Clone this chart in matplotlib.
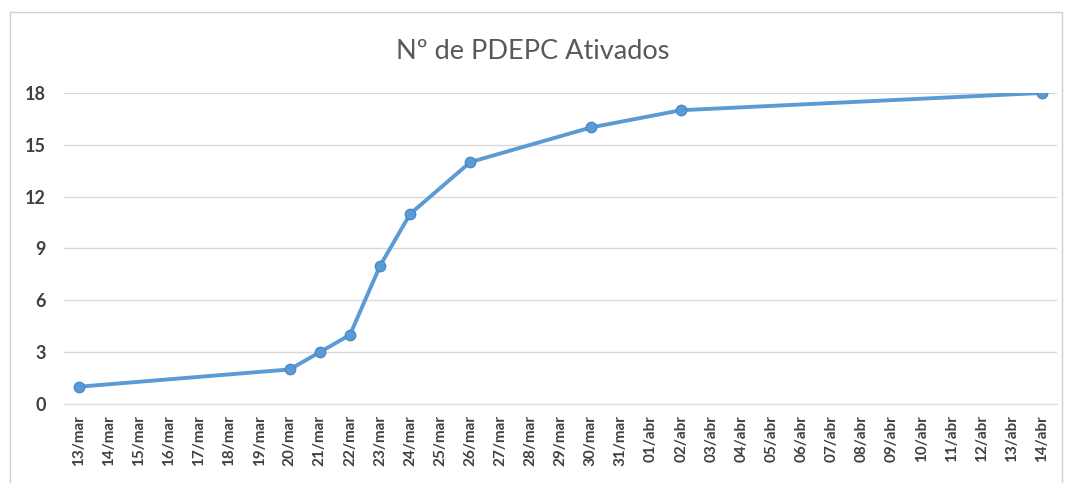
import pandas as pd
import matplotlib.pyplot as plt
from matplotlib.patches import Rectangle

plt.rcParams["font.family"] = ["Lato", "DejaVu Sans"]

# daily category axis, 13/mar .. 14/abr
days = pd.date_range("2020-03-13", "2020-04-14", freq="D")
month_pt = {3: "mar", 4: "abr"}
tick_labels = [f"{d.day:02d}/{month_pt[d.month]}" for d in days]

# dates with a recorded count of activated plans
obs_dates = ["2020-03-13", "2020-03-20", "2020-03-21", "2020-03-22", "2020-03-23",
             "2020-03-24", "2020-03-26", "2020-03-30", "2020-04-02", "2020-04-14"]
activated = [1, 2, 3, 4, 8, 11, 14, 16, 17, 18]

x_pos = [days.get_loc(pd.Timestamp(d)) for d in obs_dates]

fig = plt.figure(figsize=(10.66, 4.83), dpi=100)
ax = fig.add_axes([0.060, 0.1636, 0.932, 0.644])

# outer chart frame
fig.patches.append(Rectangle((10 / 1066, -0.1), 1052 / 1066, 1.1 - 12 / 483,
                             transform=fig.transFigure, fill=False,
                             edgecolor="#d0d0d0", linewidth=1))

ax.plot(x_pos, activated, color="#5b9bd5", linewidth=2.8, marker="o",
        markersize=7.5, markerfacecolor="#5b9bd5", markeredgecolor="#4a8ac6",
        solid_joinstyle="round", zorder=3)

ax.set_xlim(-0.5, len(days) - 0.5)
ax.set_ylim(0, 18)
ax.set_yticks(range(0, 19, 3))
ax.set_xticks(range(len(days)))
ax.set_xticklabels(tick_labels, rotation=90)

ax.grid(axis="y", color="#d9d9d9", linewidth=1)
ax.set_axisbelow(True)
for side in ["top", "right", "left"]:
    ax.spines[side].set_visible(False)
ax.spines["bottom"].set_color("#d9d9d9")
ax.tick_params(axis="both", length=0, colors="#404040")
ax.tick_params(axis="y", pad=13, labelsize=13)
ax.tick_params(axis="x", pad=8, labelsize=11)
for lbl in ax.get_yticklabels() + ax.get_xticklabels():
    lbl.set_fontweight("bold")

fig.text(0.5, 0.893, "Nº de PDEPC Ativados", ha="center", va="center",
         fontsize=19.5, color="#595959")

fig.savefig("out.png", dpi=100)
